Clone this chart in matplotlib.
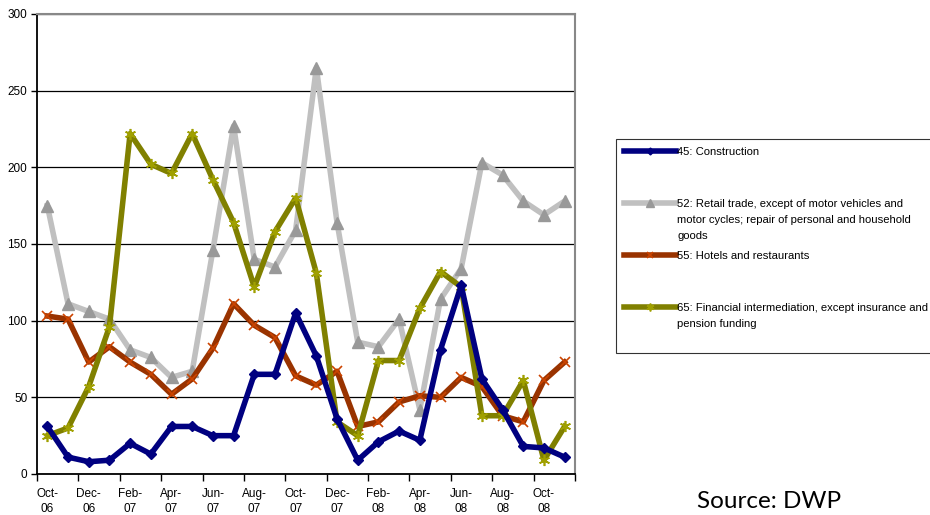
import matplotlib
matplotlib.use("Agg")
import matplotlib.pyplot as plt
import numpy as np

months = ["Oct-06", "Nov-06", "Dec-06", "Jan-07", "Feb-07", "Mar-07", "Apr-07", "May-07",
          "Jun-07", "Jul-07", "Aug-07", "Sep-07", "Oct-07", "Nov-07", "Dec-07", "Jan-08",
          "Feb-08", "Mar-08", "Apr-08", "May-08", "Jun-08", "Jul-08", "Aug-08", "Sep-08",
          "Oct-08", "Nov-08"]

construction = [31, 11, 8, 9, 20, 13, 31, 31, 25, 25, 65, 65, 105, 77, 36, 9,
                21, 28, 22, 81, 123, 62, 42, 18, 17, 11]
retail = [175, 111, 106, 101, 81, 76, 63, 67, 146, 227, 140, 135, 159, 265, 164, 86,
          83, 101, 42, 114, 134, 203, 195, 178, 169, 178]
hotels = [103, 101, 73, 83, 73, 65, 52, 62, 82, 111, 97, 89, 64, 58, 67, 31,
          34, 47, 51, 50, 63, 57, 38, 34, 61, 73]
financial = [25, 30, 57, 96, 222, 202, 196, 222, 192, 164, 122, 158, 180, 131, 34, 25,
             74, 74, 108, 132, 122, 38, 38, 61, 9, 31]

labels = ["45: Construction",
          "52: Retail trade, except of motor vehicles and\nmotor cycles; repair of personal and household\ngoods",
          "55: Hotels and restaurants",
          "65: Financial intermediation, except insurance and\npension funding"]

y_ticks = [0, 50, 100, 150, 200, 250, 300]

plt.rcParams['font.family'] = ['Liberation Sans', 'DejaVu Sans']

fig = plt.figure(figsize=(9.3, 5.15), dpi=100)
ax = fig.add_axes([37/930, 1-474/515, (575-37)/930, (474-14)/515])

x = np.arange(len(months))
lw = 4.0
l1, = ax.plot(x, construction, color="#000080", lw=lw, marker="D", ms=5,
              mfc="#000080", mec="#000080", zorder=5)
l2, = ax.plot(x, retail, color="#C0C0C0", lw=lw, marker="^", ms=8,
              mfc="#999999", mec="#999999", zorder=2)
l3, = ax.plot(x, hotels, color="#993300", lw=lw, marker="x", ms=7, mew=1.2,
              mec="#CC4400", zorder=3)
l4, = ax.plot(x, financial, color="#808000", lw=lw, marker=(6, 2, 0), ms=8, mew=1.2,
              mec="#A0A000", zorder=4)

ax.set_xlim(-0.5, len(months) - 0.5)
ax.set_ylim(0, 300)
ax.set_yticks(y_ticks)
ax.set_yticklabels([str(v) for v in y_ticks], fontsize=8.5)
ax.yaxis.grid(True, color="black", lw=0.9)
ax.set_axisbelow(True)

# major ticks at category boundaries every two categories, labels at category centres
ax.set_xticks(np.arange(-0.5, len(months), 2))
ax.set_xticklabels([])
ax.set_xticks(x[::2], minor=True)
ax.set_xticklabels([m.replace("-", "-\n") for m in months[::2]], minor=True, fontsize=8.5,
                   linespacing=1.3)
ax.tick_params(axis="x", which="minor", length=0, pad=10)
ax.tick_params(axis="x", which="major", length=5, width=1, direction="out")
ax.tick_params(axis="y", length=4, width=1, direction="out", pad=3)

for s in ["left", "bottom"]:
    ax.spines[s].set_color("black")
    ax.spines[s].set_linewidth(1.3)
for s in ["top", "right"]:
    ax.spines[s].set_color("#888888")
    ax.spines[s].set_linewidth(1.5)

leg_labels = [labels[0] + "\n\n", labels[1], labels[2] + "\n\n", labels[3] + "\n"]
leg = fig.legend([l1, l2, l3, l4], leg_labels, loc="upper left",
                 bbox_to_anchor=(616/930, 1-139/515), bbox_transform=fig.transFigure,
                 fontsize=8.1, frameon=True, fancybox=False, edgecolor="black",
                 handlelength=4.6, handleheight=1.0, handletextpad=0.15, labelspacing=0.85,
                 borderpad=0.7, borderaxespad=0, markerscale=0.7)
leg.get_frame().set_linewidth(0.8)
for t in leg.get_texts():
    t.set_linespacing(1.78)
for col in leg._legend_handle_box.get_children():
    for item in col.get_children():
        item.align = "top"

fig.text(697/930, 1-491/515, "Source: DWP", fontsize=17.5, family=["Lato", "DejaVu Sans"],
         ha="left", va="top", color="black")

fig.savefig("out.png", dpi=100)
